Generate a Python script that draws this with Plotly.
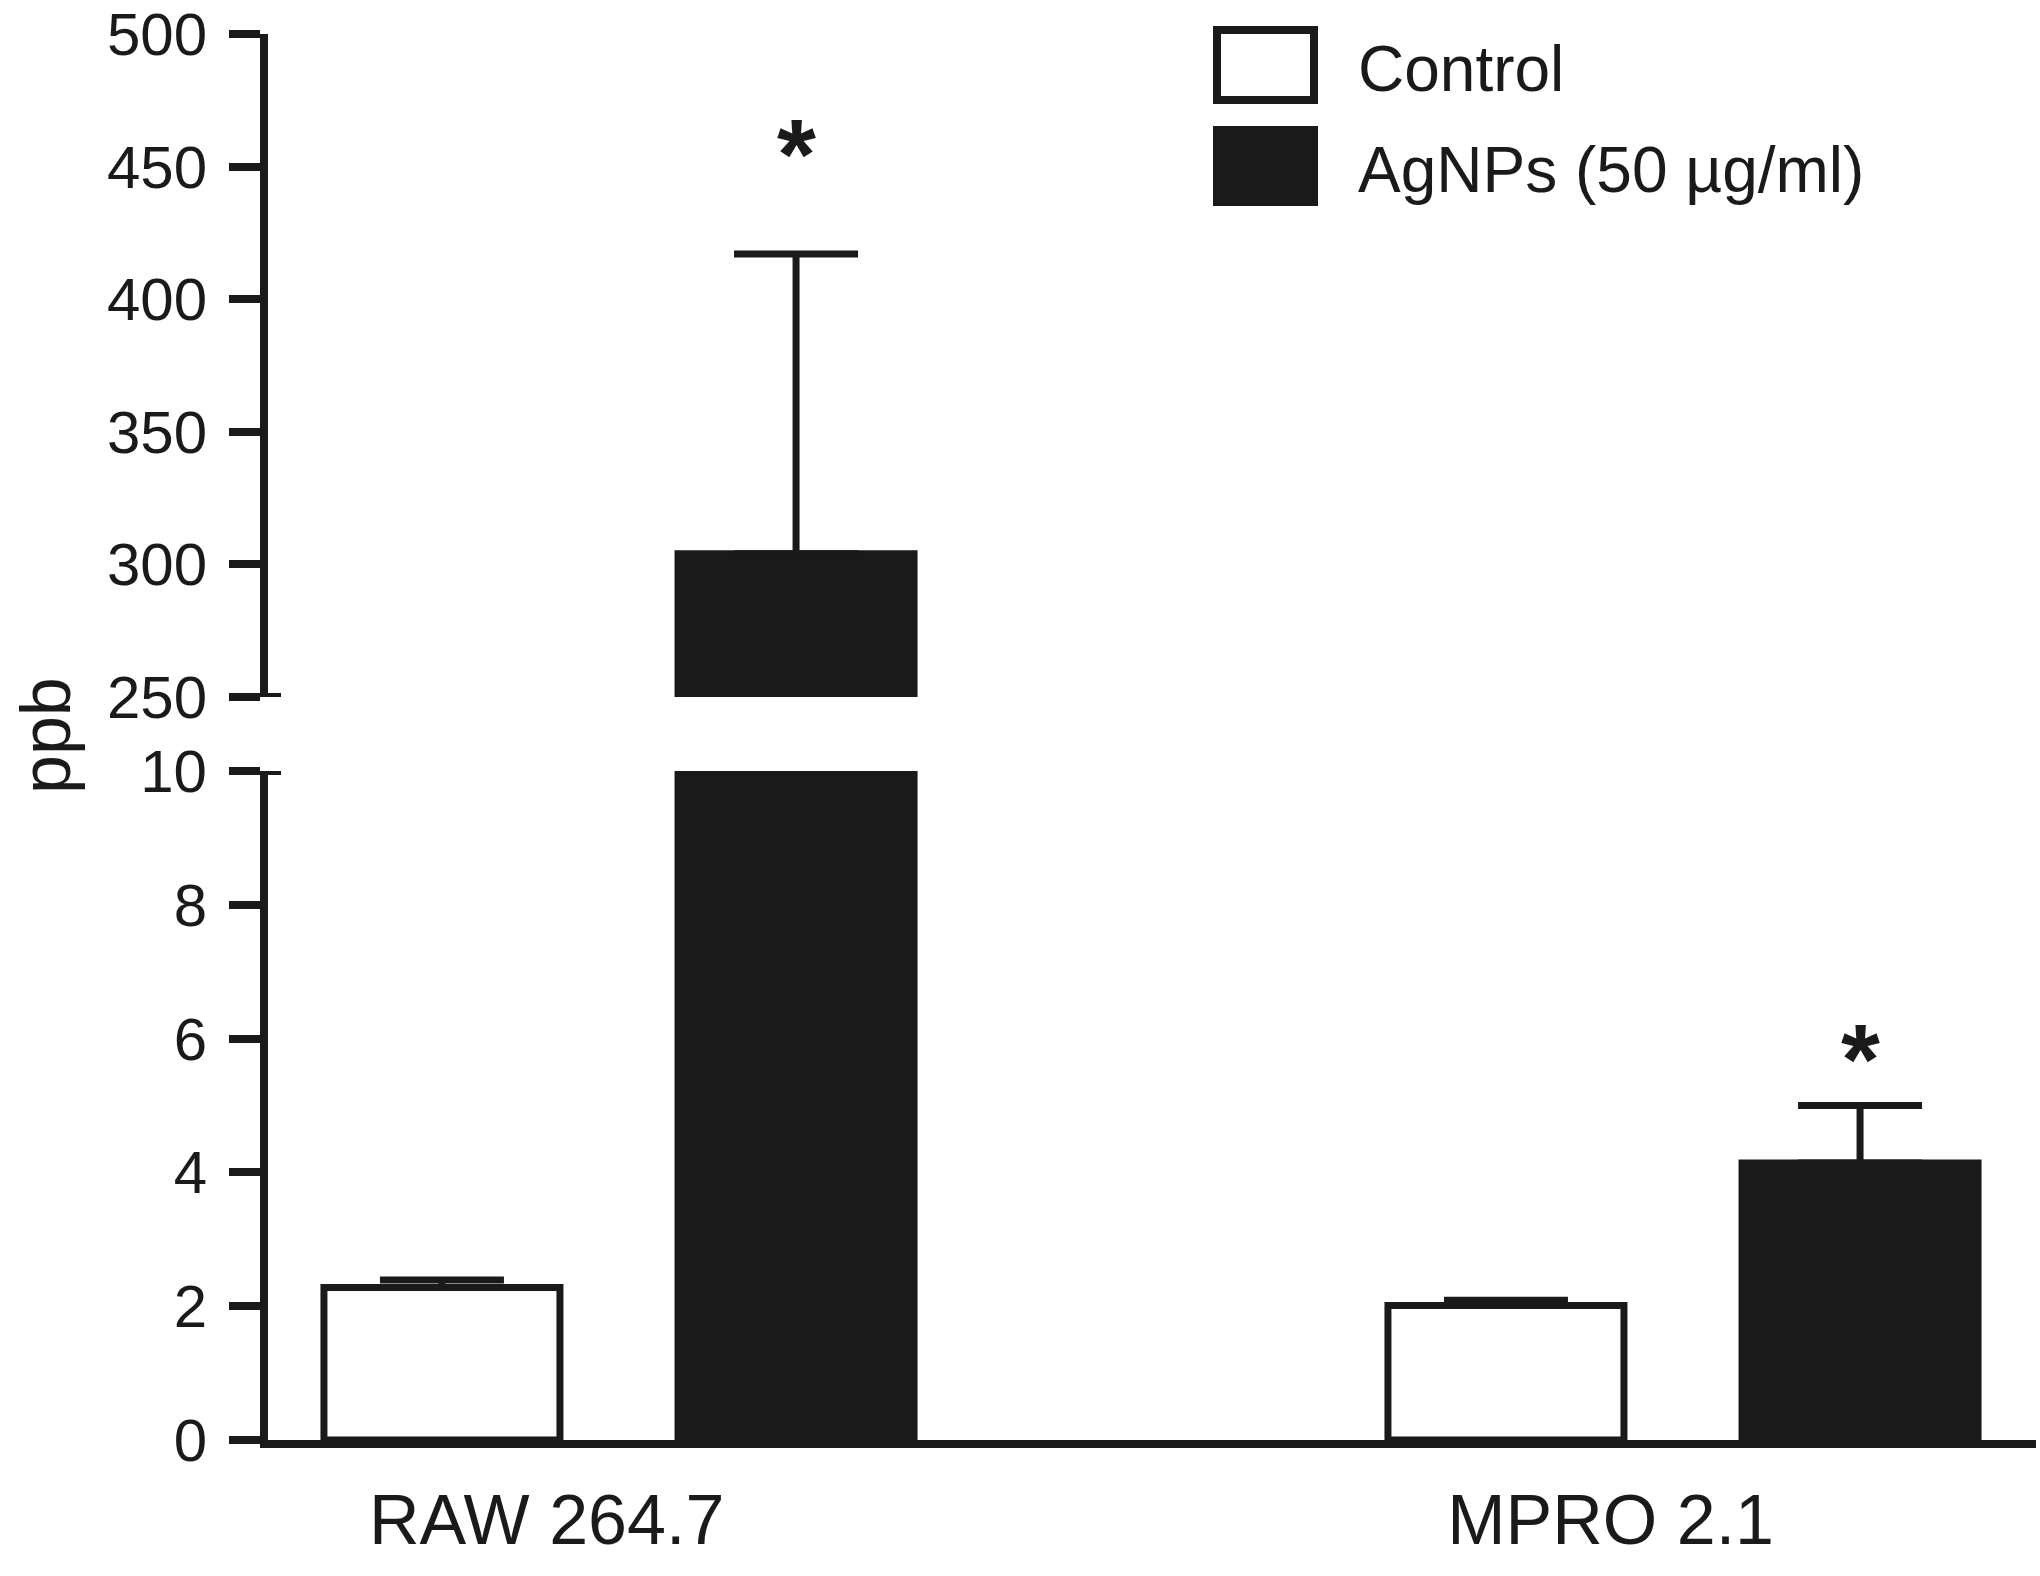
import plotly.graph_objects as go

# ---------------- data ----------------
categories = ["RAW 264.7", "MPRO 2.1"]
series_names = ["Control", "AgNPs (50 µg/ml)"]
control_mean = [2.28, 2.01]
control_sem = [0.11, 0.08]
agnps_mean = [304.0, 4.14]
agnps_sem = [113.0, 0.86]
upper_ticks = [250, 300, 350, 400, 450, 500]
lower_ticks = [0, 2, 4, 6, 8, 10]
upper_range = [250, 500]
lower_range = [0, 10]
significant = [True, True]
star_y = [460, 5.9]          # where the "*" marks sit (axis units)
y_title = "ppb"

# ---------------- layout geometry ----------------
W, H = 2040, 1576
L, R, T, B = 268, 2036, 34, 1440
pw, ph = R - L, B - T
INK = "#1a1a1a"
FONT = "Liberation Sans, Arial, Helvetica, sans-serif"


def px(X):
    return (X - L) / pw


def py(Y):
    return (B - Y) / ph


upper_dom = [py(697), 1.0]
lower_dom = [0.0, py(771)]

bargap = 0.3344
bargroupgap = 0.3335
offset = (1 - bargap) / 4
xpos = list(range(len(categories)))

fig = go.Figure()


def add_pair(yaxis):
    fig.add_trace(go.Bar(
        x=xpos, y=control_mean, name=series_names[0], yaxis=yaxis, xaxis="x",
        marker=dict(color="white", line=dict(color=INK, width=7)),
        error_y=dict(type="data", symmetric=False, array=control_sem,
                     arrayminus=[0] * len(control_sem), color=INK,
                     thickness=7, width=62),
        showlegend=False,
    ))
    fig.add_trace(go.Bar(
        x=xpos, y=agnps_mean, name=series_names[1], yaxis=yaxis, xaxis="x",
        marker=dict(color=INK, line=dict(color=INK, width=7)),
        error_y=dict(type="data", symmetric=False, array=agnps_sem,
                     arrayminus=[0] * len(agnps_sem), color=INK,
                     thickness=7, width=62),
        showlegend=False,
    ))


add_pair("y")
add_pair("y2")

axis_common = dict(
    showgrid=False, zeroline=False, showline=True, linecolor=INK, linewidth=8,
    ticks="outside", ticklen=31, tickwidth=8, tickcolor=INK, automargin=False,
    tickfont=dict(family=FONT, size=60, color=INK), ticklabelstandoff=10,
    ticklabeloverflow="allow",
)

fig.update_layout(
    width=W, height=H,
    margin=dict(l=L, r=W - R, t=T, b=H - B, pad=0, autoexpand=False),
    paper_bgcolor="white", plot_bgcolor="white",
    barmode="group", bargap=bargap, bargroupgap=bargroupgap,
    xaxis=dict(
        range=[(L - 619) / 1064, (R - 619) / 1064],
        showgrid=False, zeroline=False, showline=True, linecolor=INK, linewidth=8,
        ticks="", tickvals=[i - 0.068 for i in xpos], ticktext=categories,
        tickfont=dict(family=FONT, size=70, color=INK), ticklabelstandoff=12,
        ticklabeloverflow="allow", anchor="y", automargin=False,
    ),
    yaxis=dict(domain=lower_dom, range=lower_range, tickvals=lower_ticks,
               anchor="x", **axis_common),
    yaxis2=dict(domain=upper_dom, range=upper_range, tickvals=upper_ticks,
                anchor="x", **axis_common),
    font=dict(family=FONT, color=INK),
)

# axis-break marks (ticks continuing right of the axis)
for yref, yv in (("y2", upper_range[0]), ("y", lower_range[1])):
    fig.add_shape(type="line", xref="paper", yref=yref,
                  x0=px(262), x1=px(281), y0=yv, y1=yv,
                  line=dict(color=INK, width=8))

# significance stars above AgNPs bars
for i, sig in enumerate(significant):
    if not sig:
        continue
    yref = "y2" if agnps_mean[i] > lower_range[1] else "y"
    fig.add_annotation(x=xpos[i] + offset, y=star_y[i], xref="x", yref=yref,
                       text="<b>*</b>", showarrow=False, yanchor="middle",
                       font=dict(family=FONT, size=100, color=INK), yshift=-14)

# custom legend (large swatches)
legend_rows = [(30, 100, "white"), (130, 202, INK)]
for (y0, y1, fill), name in zip(legend_rows, series_names):
    fig.add_shape(type="rect", xref="paper", yref="paper",
                  x0=px(1217), x1=px(1314), y0=py(y1), y1=py(y0),
                  fillcolor=fill, line=dict(color=INK, width=8))
    fig.add_annotation(x=px(1356), y=py((y0 + y1) / 2 + 4), xref="paper", yref="paper",
                       text=name, showarrow=False, xanchor="left", yanchor="middle",
                       font=dict(family=FONT, size=64, color=INK))

# y axis title
fig.add_annotation(x=px(46), y=py(736), xref="paper", yref="paper", text=y_title,
                   showarrow=False, textangle=-90, xanchor="center", yanchor="middle",
                   font=dict(family=FONT, size=70, color=INK))

fig.write_html("out.html", config={"displayModeBar": False},
               post_script="document.body.style.margin='0';document.body.style.overflow='hidden';")
